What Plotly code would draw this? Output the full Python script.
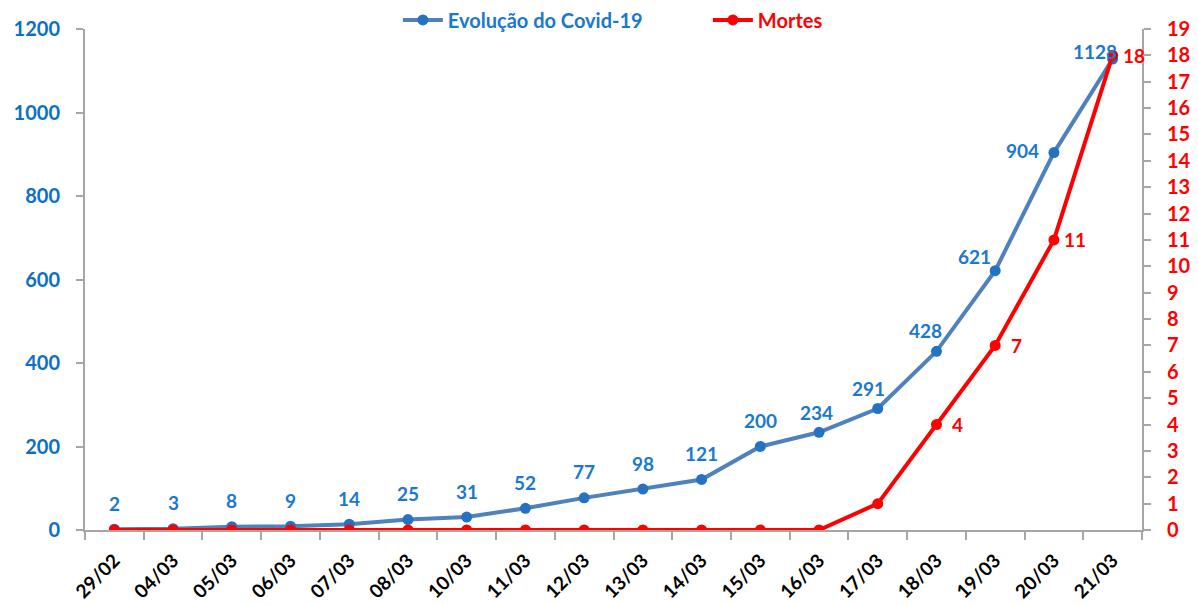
import plotly.graph_objects as go

dates = ["29/02", "04/03", "05/03", "06/03", "07/03", "08/03", "10/03", "11/03", "12/03",
         "13/03", "14/03", "15/03", "16/03", "17/03", "18/03", "19/03", "20/03", "21/03"]
cases = [2, 3, 8, 9, 14, 25, 31, 52, 77, 98, 121, 200, 234, 291, 428, 621, 904, 1128]
deaths = [0, 0, 0, 0, 0, 0, 0, 0, 0, 0, 0, 0, 0, 1, 4, 7, 11, 18]
death_labels = ["", "", "", "", "", "", "", "", "", "", "", "", "", "", "4", "7", "11", "18"]

# label offsets (style only)
case_dx = [0] * 12 + [-3, -9, -11, -21, -31, -18]
case_dy = [26] * 12 + [20, 20, 21, 14, 2, 8]

BLUE_LINE = "#4F81BD"
BLUE_MARK = "#2672C2"
BLUE_TXT = "#1A78CF"
AXIS_BLUE = "#0A70C6"
RED = "#FF0000"
GRAY = "#A6A6A6"
FONT = "Lato"

fig = go.Figure()
fig.add_trace(go.Scatter(
    x=dates, y=cases, mode="lines+markers",
    name=f"<span style='color:{BLUE_TXT}'>Evolução do Covid-19</span>",
    line=dict(color=BLUE_LINE, width=4),
    marker=dict(color=BLUE_MARK, size=11),
    yaxis="y",
))
fig.add_trace(go.Scatter(
    x=dates, y=deaths, mode="lines+markers",
    name=f"<span style='color:{RED}'>Mortes</span>",
    line=dict(color=RED, width=4),
    marker=dict(color=RED, size=11),
    yaxis="y2",
))

annotations = []
for d, v, dx, dy in zip(dates, cases, case_dx, case_dy):
    annotations.append(dict(x=d, y=v, xref="x", yref="y", text=str(v), showarrow=False,
                            xshift=dx, yshift=dy,
                            font=dict(family=FONT, size=19, color=BLUE_TXT, weight="bold")))
for d, v, t in zip(dates, deaths, death_labels):
    if t:
        annotations.append(dict(x=d, y=v, xref="x", yref="y2", text=t, showarrow=False,
                                xshift=21, yshift=0,
                                font=dict(family=FONT, size=19, color=RED, weight="bold")))

# page body has an 8px margin, so the figure is sized 8px smaller in each direction
fig.update_layout(
    width=1190, height=597,
    margin=dict(l=77, r=56, t=21, b=75, autoexpand=False),
    paper_bgcolor="white", plot_bgcolor="white",
    showlegend=True,
    legend=dict(orientation="h", x=0.296, xanchor="left", y=1.018, yanchor="middle",
                font=dict(family=FONT, size=20, weight="bold"), itemwidth=40,
                entrywidth=255, bgcolor="rgba(0,0,0,0)"),
    annotations=annotations,
    xaxis=dict(type="category", range=[-0.5, len(dates) - 0.5], showline=True,
               linecolor=GRAY, linewidth=2, ticks="outside", tickson="boundaries",
               ticklen=8, tickcolor=GRAY, tickwidth=2, tickangle=-45, showgrid=False,
               tickfont=dict(family=FONT, size=19, color="black", weight="bold"),
               ticklabelstandoff=10),
    yaxis=dict(range=[0, 1200], dtick=200, showline=True, linecolor=GRAY, linewidth=2,
               ticks="outside", ticklen=7, tickcolor=GRAY, tickwidth=2, showgrid=False,
               zeroline=False, tickfont=dict(family=FONT, size=20, color=AXIS_BLUE, weight="bold"),
               ticklabelstandoff=12),
    yaxis2=dict(range=[0, 19], dtick=1, overlaying="y", side="right", showline=True,
                linecolor=GRAY, linewidth=2, ticks="outside", ticklen=7, tickcolor=GRAY,
                tickwidth=2, showgrid=False, zeroline=False,
                tickfont=dict(family=FONT, size=20, color=RED, weight="bold"),
                ticklabelstandoff=12),
)

fig.write_html("out.html")
